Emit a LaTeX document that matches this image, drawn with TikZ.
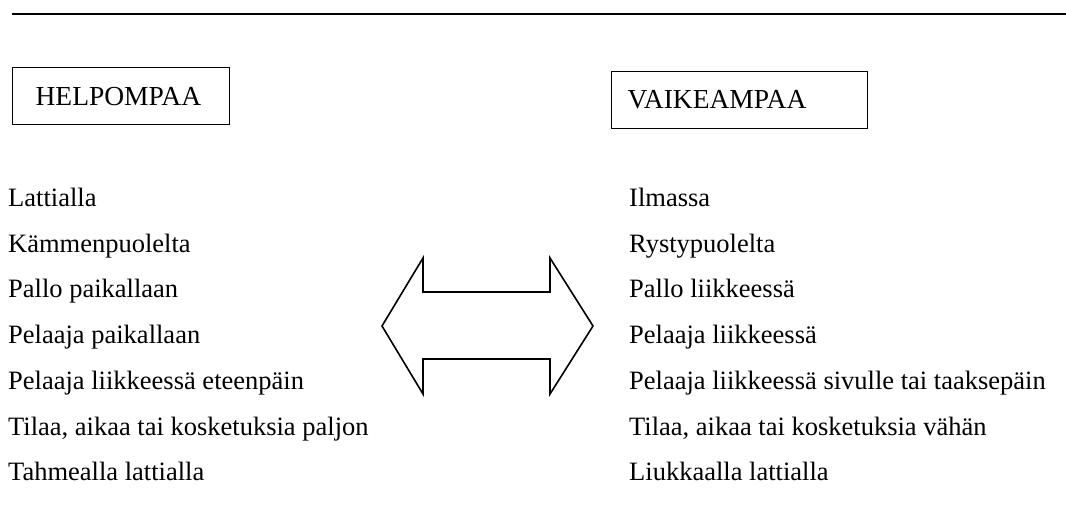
\documentclass[tikz,border=0pt]{standalone}
\usepackage{fontspec}
\setmainfont{Liberation Serif}
\begin{document}
\begin{tikzpicture}[x=1pt,y=-1pt,
  item/.style={anchor=base west,inner sep=0pt,font=\fontsize{26.5}{30}\selectfont},
  headbox/.style={draw,line width=1.2pt,anchor=north west,align=left,inner ysep=0pt,
    minimum height=57pt,font=\fontsize{27.5}{30}\selectfont},
  rule/.style={line width=1.6pt},
  bigarrow/.style={line width=1.6pt,line join=miter}]
\useasboundingbox (0,0) rectangle (1066,526);
% top rule
\coordinate (ruleL) at (12,14);
\coordinate (ruleR) at (1066,14);
\draw[rule] (ruleL) -- (ruleR);
% header boxes
\node[headbox,inner xsep=23pt,text width=171pt] (easy) at (12,67) {HELPOMPAA};
\node[headbox,inner xsep=16pt,text width=224pt] (hard) at (611,71) {VAIKEAMPAA};
% left column
\node[item] (l1) at (8,207) {Lattialla};
\node[item] (l2) at (8,253) {Kämmenpuolelta};
\node[item] (l3) at (8,298) {Pallo paikallaan};
\node[item] (l4) at (8,344) {Pelaaja paikallaan};
\node[item] (l5) at (8,390) {Pelaaja liikkeessä eteenpäin};
\node[item] (l6) at (8,436) {Tilaa, aikaa tai kosketuksia paljon};
\node[item] (l7) at (8,481) {Tahmealla lattialla};
% right column
\node[item] (r1) at (629,207) {Ilmassa};
\node[item] (r2) at (629,253) {Rystypuolelta};
\node[item] (r3) at (629,298) {Pallo liikkeessä};
\node[item] (r4) at (629,344) {Pelaaja liikkeessä};
\node[item] (r5) at (629,390) {Pelaaja liikkeessä sivulle tai taaksepäin};
\node[item] (r6) at (629,436) {Tilaa, aikaa tai kosketuksia vähän};
\node[item] (r7) at (629,481) {Liukkaalla lattialla};
% double arrow
\draw[bigarrow] (382,326) -- (423,258) -- (423,292) -- (550,292) -- (550,258)
  -- (593,326) -- (550,394) -- (550,359) -- (423,359) -- (423,394) -- cycle;
\end{tikzpicture}
\end{document}
